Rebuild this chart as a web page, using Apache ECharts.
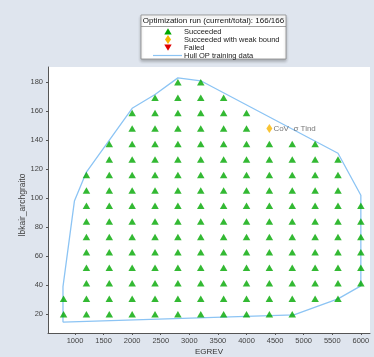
<!DOCTYPE html>
<html>
<head>
<meta charset="utf-8">
<script src="https://cdn.jsdelivr.net/npm/echarts@6/dist/echarts.min.js"></script>
<style>
  html, body { margin: 0; padding: 0; background: #dfe5ee; }
  #chart { width: 374px; height: 357px; }
</style>
</head>
<body>
<div id="chart"></div>
<script>
// Operating points of the optimization run, grouped by EGREV column
const egrevColumns = [800, 1200, 1600, 2000, 2400, 2800, 3200, 3600, 4000, 4400, 4800, 5200, 5600, 6000];
const lbkairByColumn = [
  [20, 30.7],
  [20, 30.7, 41.3, 52, 62.7, 73.3, 84, 94.7, 105.3, 116],
  [20, 30.7, 41.3, 52, 62.7, 73.3, 84, 94.7, 105.3, 116, 126.7, 137.3],
  [20, 30.7, 41.3, 52, 62.7, 73.3, 84, 94.7, 105.3, 116, 126.7, 137.3, 148, 158.7],
  [20, 30.7, 41.3, 52, 62.7, 73.3, 84, 94.7, 105.3, 116, 126.7, 137.3, 148, 158.7, 169.3],
  [20, 30.7, 41.3, 52, 62.7, 73.3, 84, 94.7, 105.3, 116, 126.7, 137.3, 148, 158.7, 169.3, 180],
  [20, 30.7, 41.3, 52, 62.7, 73.3, 84, 94.7, 105.3, 116, 126.7, 137.3, 148, 158.7, 169.3, 180],
  [20, 30.7, 41.3, 52, 62.7, 73.3, 84, 94.7, 105.3, 116, 126.7, 137.3, 148, 158.7, 169.3],
  [20, 30.7, 41.3, 52, 62.7, 73.3, 84, 94.7, 105.3, 116, 126.7, 137.3, 148, 158.7],
  [20, 30.7, 41.3, 52, 62.7, 73.3, 84, 94.7, 105.3, 116, 126.7, 137.3],
  [20, 30.7, 41.3, 52, 62.7, 73.3, 84, 94.7, 105.3, 116, 126.7, 137.3],
  [30.7, 41.3, 52, 62.7, 73.3, 84, 94.7, 105.3, 116, 126.7, 137.3],
  [30.7, 41.3, 52, 62.7, 73.3, 84, 94.7, 105.3, 116, 126.7],
  [41.3, 52, 62.7, 73.3, 84, 94.7]
];

// Point that succeeded only with a weak bound
const weakBoundPoints = [[4400, 148]];
const weakBoundLabel = 'CoV  σ Tind';

// Failed points (none in this run)
const failedPoints = [];

// Convex hull of the training data, closed polygon
const hullEgrev  = [790, 790, 990, 1200, 2000, 2400, 2800, 3200, 5600, 6000, 6000, 5600, 4830, 790];
const hullLbkair = [14.5, 39, 98, 118, 162, 171.5, 183, 181, 131, 102, 39.5, 30.5, 19.5, 14.5];

// Axis extents and tick labels
const xRange = [528, 6160];
const yRange = [7, 190.5];
const xTickValues = [1000, 1500, 2000, 2500, 3000, 3500, 4000, 4500, 5000, 5500, 6000];
const yTickValues = [20, 40, 60, 80, 100, 120, 140, 160, 180];

const legendTitle = 'Optimization run (current/total): 166/166';
const legendNames = ['Succeeded', 'Succeeded with weak bound', 'Failed', 'Hull OP training data'];

const succeeded = [];
egrevColumns.forEach((x, i) => lbkairByColumn[i].forEach(y => succeeded.push([x, y])));
const hull = hullEgrev.map((x, i) => [x, hullLbkair[i]]);

const FONT = 'Liberation Sans, Arial, sans-serif';
const chart = echarts.init(document.getElementById('chart'), null, { renderer: 'canvas' });

const lx = 141, ly = 15, lw = 145, lh = 44;
const rowY = [31.5, 39.5, 47.5, 55.5];

chart.setOption({
  backgroundColor: '#dfe5ee',
  animation: false,
  grid: {
    left: 48, right: 4, top: 67, bottom: 24, show: true, backgroundColor: '#ffffff', borderWidth: 0,
    outerBoundsMode: 'none', containLabel: false
  },
  xAxis: {
    type: 'value',
    min: xRange[0], max: xRange[1],
    name: 'EGREV', nameLocation: 'middle', nameGap: 15, nameMoveOverlap: false,
    nameTextStyle: { fontFamily: FONT, fontSize: 8, color: '#333' },
    axisLine: { show: true, lineStyle: { color: '#555', width: 1 } },
    axisTick: { show: true, length: 2, lineStyle: { color: '#555' }, customValues: xTickValues },
    axisLabel: { fontFamily: FONT, fontSize: 7.5, color: '#444', margin: 4, customValues: xTickValues,
      formatter: v => String(v) },
    splitLine: { show: false }
  },
  yAxis: {
    type: 'value',
    min: yRange[0], max: yRange[1],
    name: 'lbkair_archgraito', nameLocation: 'middle', nameGap: 21, nameMoveOverlap: false,
    nameTextStyle: { fontFamily: FONT, fontSize: 8.5, color: '#444', padding: [0, 10, 0, 0] },
    axisLine: { show: true, lineStyle: { color: '#555', width: 1 } },
    axisTick: { show: true, length: 2, lineStyle: { color: '#555' }, customValues: yTickValues },
    axisLabel: { fontFamily: FONT, fontSize: 7.5, color: '#444', margin: 5, customValues: yTickValues,
      formatter: v => String(v) },
    splitLine: { show: false }
  },
  series: [
    {
      name: legendNames[3], type: 'line', data: hull, symbol: 'none',
      lineStyle: { color: '#8cc4f4', width: 1.3 }, z: 2
    },
    {
      name: legendNames[0], type: 'scatter', data: succeeded,
      symbol: 'triangle', symbolSize: [7.5, 6.5],
      itemStyle: { color: '#00a800' }, z: 3
    },
    {
      name: legendNames[1], type: 'scatter', data: weakBoundPoints,
      symbol: 'diamond', symbolSize: [6, 9],
      itemStyle: { color: '#f7b500' }, z: 4,
      label: {
        show: true, position: 'right', distance: 1, formatter: weakBoundLabel,
        fontFamily: FONT, fontSize: 8, color: '#555'
      }
    },
    {
      name: legendNames[2], type: 'scatter', data: failedPoints,
      symbol: 'triangle', symbolRotate: 180, symbolSize: [7.5, 6.5],
      itemStyle: { color: '#e00000' }, z: 4
    }
  ],
  graphic: [
    {
      type: 'group', z: 100,
      children: [
        { type: 'rect', shape: { x: lx, y: ly, width: lw, height: lh },
          style: { fill: '#ffffff', stroke: '#8a8a8a', lineWidth: 0.8, shadowBlur: 3, shadowOffsetY: 2, shadowColor: 'rgba(0,0,0,0.25)' } },
        { type: 'line', shape: { x1: lx, y1: 26.5, x2: lx + lw, y2: 26.5 }, style: { stroke: '#8a8a8a', lineWidth: 0.8 } },
        { type: 'text', style: { x: lx + lw / 2, y: 21, text: legendTitle, align: 'center', verticalAlign: 'middle',
          font: '8px ' + FONT, fill: '#111' } },
        { type: 'polygon', shape: { points: [[168, rowY[0] - 3.3], [164.3, rowY[0] + 3], [171.7, rowY[0] + 3]] }, style: { fill: '#00a800' } },
        { type: 'polygon', shape: { points: [[168, rowY[1] - 4.5], [171, rowY[1]], [168, rowY[1] + 4.5], [165, rowY[1]]] }, style: { fill: '#f7b500' } },
        { type: 'polygon', shape: { points: [[164.3, rowY[2] - 3], [171.7, rowY[2] - 3], [168, rowY[2] + 3.3]] }, style: { fill: '#e00000' } },
        { type: 'line', shape: { x1: 153, y1: rowY[3], x2: 182, y2: rowY[3] }, style: { stroke: '#8cc4f4', lineWidth: 1.2 } },
        ...legendNames.map((n, i) => ({ type: 'text', style: { x: 184, y: rowY[i], text: n, verticalAlign: 'middle',
          font: '7.5px ' + FONT, fill: '#222' } }))
      ]
    }
  ]
});
</script>
</body>
</html>
